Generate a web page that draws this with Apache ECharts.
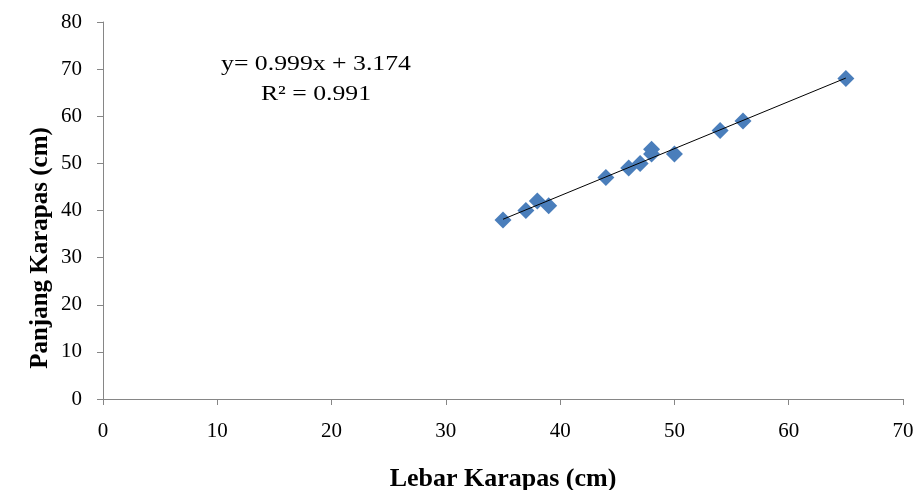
<!DOCTYPE html>
<html>
<head>
<meta charset="utf-8">
<script src="https://cdn.jsdelivr.net/npm/echarts@6/dist/echarts.min.js"></script>
<style>
  html, body { margin: 0; padding: 0; background: #fff; }
  #main { width: 915px; height: 490px; }
</style>
</head>
<body>
<div id="main"></div>
<script>
  // lebar (x) vs panjang (y) karapas, cm
  var lebar = [35, 37, 38, 39, 44, 46, 47, 48, 48, 50, 54, 56, 65];
  var panjang = [38, 40, 42, 41, 47, 49, 50, 53, 52, 52, 57, 59, 68];
  // regression shown on the chart
  var slope = 0.999;
  var intercept = 3.174;
  var r2 = 0.991;

  var points = lebar.map(function (x, i) { return [x, panjang[i]]; });
  var xMin = Math.min.apply(null, lebar);
  var xMax = Math.max.apply(null, lebar);
  var trend = [[xMin, slope * xMin + intercept], [xMax, slope * xMax + intercept]];

  var font = '"Liberation Serif", "Times New Roman", serif';
  var myChart = echarts.init(document.getElementById('main'));
  myChart.setOption({
    animation: false,
    grid: { left: 103, right: 12, top: 22, bottom: 91, containLabel: false, outerBoundsMode: 'none' },
    xAxis: {
      type: 'value',
      min: 0, max: 70, interval: 10,
      name: 'Lebar Karapas (cm)',
      nameLocation: 'middle',
      nameGap: 67,
      nameTextStyle: { fontFamily: font, fontSize: 26, fontWeight: 'bold', color: '#000' },
      axisLine: { lineStyle: { color: '#868686' } },
      axisTick: { show: true, inside: false, length: 6, lineStyle: { color: '#868686' } },
      axisLabel: { fontFamily: font, fontSize: 21, color: '#000', margin: 22 },
      splitLine: { show: false }
    },
    yAxis: {
      type: 'value',
      min: 0, max: 80, interval: 10,
      axisLine: { show: true, lineStyle: { color: '#868686' } },
      axisTick: { show: true, inside: false, length: 6, lineStyle: { color: '#868686' } },
      axisLabel: { fontFamily: font, fontSize: 21, color: '#000', margin: 21 },
      splitLine: { show: false }
    },
    graphic: [
      {
        // y axis title, sits a bit below the plot centre in the original
        type: 'text',
        x: 41, y: 248,
        rotation: Math.PI / 2,
        style: {
          text: 'Panjang Karapas (cm)',
          font: 'bold 25px ' + font,
          fill: '#000',
          align: 'center',
          verticalAlign: 'middle'
        }
      },
      {
        type: 'text',
        x: 316, y: 49,
        scaleX: 1.17,
        style: {
          text: 'y= ' + slope.toFixed(3) + 'x + ' + intercept.toFixed(3) + '\nR² = ' + r2.toFixed(3),
          font: '22px ' + font,
          fill: '#000',
          align: 'center',
          lineHeight: 30
        }
      }
    ],
    series: [
      {
        type: 'line',
        data: trend,
        symbol: 'none',
        lineStyle: { color: '#000', width: 1 },
        z: 3
      },
      {
        type: 'scatter',
        data: points,
        symbol: 'diamond',
        symbolSize: 17,
        itemStyle: { color: '#4A7EBB', opacity: 1 },
        z: 2
      }
    ]
  });
</script>
</body>
</html>
